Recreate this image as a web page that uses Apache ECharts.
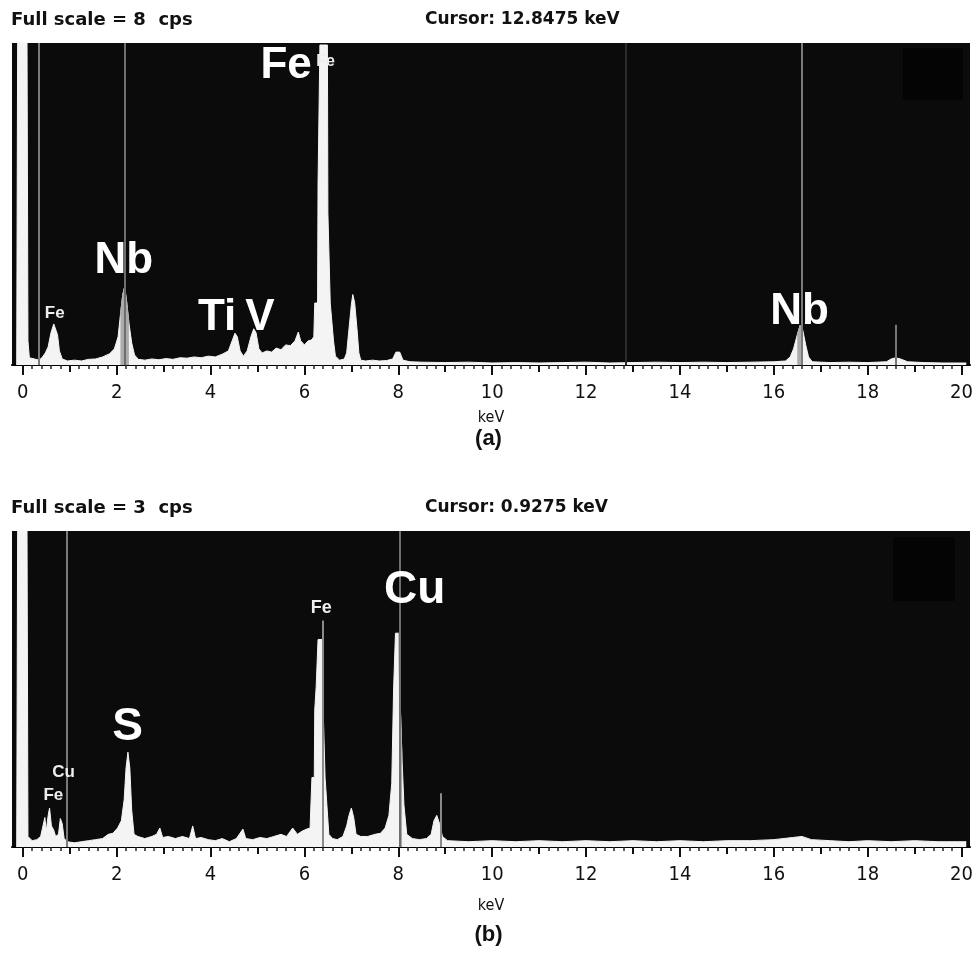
<!DOCTYPE html>
<html>
<head>
<meta charset="utf-8">
<style>
  html, body { margin: 0; padding: 0; background: #fff; }
  #chart { width: 977px; height: 961px; }
</style>
<script src="https://cdn.jsdelivr.net/npm/echarts@6/dist/echarts.min.js"></script>
</head>
<body>
<div id="chart"></div>
<script>
// tick labels (keV)
const tickLabels = [0, 2, 4, 6, 8, 10, 12, 14, 16, 18, 20]
const midTicks = [1, 3, 5, 7, 9, 11, 13, 15, 17, 19]
const minorTicks = []
for (let i = 0; i <= 100; i++) {
  if (i % 5 !== 0) minorTicks.push(Math.round(i * 2) / 10)
}

// panel (a): [keV, cps], full scale 8 cps
const spectrumA = [
  [-0.13, 0], [-0.11, 8], [0.09, 8], [0.11, 0.6], [0.14, 0.18], [0.25, 0.15], [0.35, 0.12],
  [0.42, 0.2], [0.48, 0.3], [0.54, 0.45], [0.6, 0.8], [0.66, 1.02], [0.7, 1.05], [0.74, 0.75],
  [0.78, 0.35], [0.84, 0.15], [0.95, 0.1], [1.1, 0.12], [1.25, 0.1], [1.4, 0.14], [1.55, 0.15],
  [1.7, 0.2], [1.85, 0.28], [1.95, 0.4], [2.03, 0.7], [2.08, 1.25], [2.13, 1.75], [2.17, 1.94],
  [2.21, 1.6], [2.26, 1.05], [2.32, 0.55], [2.38, 0.25], [2.46, 0.14], [2.6, 0.12], [2.75, 0.15],
  [2.9, 0.13], [3.05, 0.16], [3.2, 0.14], [3.35, 0.18], [3.5, 0.17], [3.65, 0.2], [3.8, 0.18],
  [3.95, 0.22], [4.1, 0.2], [4.25, 0.27], [4.38, 0.35], [4.46, 0.6], [4.52, 0.79], [4.57, 0.7],
  [4.63, 0.35], [4.7, 0.22], [4.78, 0.35], [4.86, 0.7], [4.92, 0.9], [4.97, 0.8], [5.03, 0.4],
  [5.1, 0.3], [5.2, 0.35], [5.3, 0.32], [5.4, 0.42], [5.5, 0.38], [5.6, 0.5], [5.7, 0.48],
  [5.8, 0.6], [5.87, 0.82], [5.92, 0.6], [6.0, 0.5], [6.08, 0.6], [6.15, 0.62], [6.2, 0.7],
  [6.22, 1.54], [6.28, 1.54], [6.29, 4.5], [6.32, 4.5], [6.33, 7.95], [6.49, 7.95], [6.5, 3.78],
  [6.54, 3.78], [6.55, 1.54], [6.58, 1.54], [6.62, 0.6], [6.66, 0.22], [6.75, 0.12], [6.85, 0.15],
  [6.9, 0.3], [6.95, 0.9], [7.0, 1.5], [7.03, 1.75], [7.07, 1.55], [7.12, 0.9], [7.16, 0.3],
  [7.2, 0.12], [7.3, 0.1], [7.45, 0.12], [7.6, 0.1], [7.75, 0.11], [7.88, 0.15], [7.95, 0.32],
  [8.03, 0.32], [8.1, 0.12], [8.25, 0.08], [8.5, 0.07], [9.0, 0.06], [9.5, 0.07], [10.0, 0.05],
  [10.5, 0.06], [11.0, 0.05], [11.5, 0.06], [12.0, 0.07], [12.5, 0.05], [13.0, 0.06], [13.5, 0.07],
  [14.0, 0.06], [14.5, 0.07], [15.0, 0.06], [15.5, 0.07], [16.0, 0.08], [16.25, 0.1], [16.35, 0.2],
  [16.42, 0.4], [16.5, 0.75], [16.56, 0.98], [16.62, 0.85], [16.68, 0.5], [16.74, 0.2], [16.82, 0.08],
  [17.2, 0.06], [17.6, 0.07], [18.0, 0.06], [18.4, 0.08], [18.5, 0.15], [18.6, 0.18], [18.7, 0.15],
  [18.85, 0.08], [19.2, 0.06], [19.6, 0.05], [20.1, 0.05]
]
const roiA = [[2.08, 2.26], [16.48, 16.66]]
// [keV, from cps, to cps]
const markersA = [[0.33, 0, 8], [2.17, 0, 8], [12.8475, 0, 8], [16.6, 0, 8], [18.6, 0, 1.0]]
const markerColorsA = ['#7a7a7a', '#6e6e6e', '#2c2c2c', '#7a7a7a', '#777777']
// [text, keV, cps]
const labelsA = [
  ['Fe', 5.61, 7.43], ['Fe', 6.45, 7.55], ['Nb', 2.15, 2.58], ['Ti', 4.14, 1.17],
  ['V', 5.05, 1.17], ['Fe', 0.68, 1.29], ['Nb', 16.55, 1.32]
]
const labelSizesA = [44, 16, 44, 44, 44, 17, 44]

// panel (b): [keV, cps], full scale 3 cps
const spectrumB = [
  [-0.13, 0], [-0.11, 3], [0.09, 3], [0.11, 0.1], [0.2, 0.06], [0.3, 0.07], [0.38, 0.1],
  [0.43, 0.2], [0.47, 0.28], [0.5, 0.15], [0.54, 0.3], [0.57, 0.37], [0.61, 0.2], [0.66, 0.16],
  [0.7, 0.1], [0.76, 0.12], [0.8, 0.27], [0.84, 0.22], [0.88, 0.08], [0.95, 0.05], [1.1, 0.04],
  [1.25, 0.05], [1.4, 0.06], [1.55, 0.07], [1.7, 0.08], [1.82, 0.12], [1.92, 0.13], [2.02, 0.18],
  [2.1, 0.25], [2.16, 0.45], [2.2, 0.75], [2.24, 0.9], [2.28, 0.75], [2.32, 0.35], [2.37, 0.12],
  [2.45, 0.1], [2.6, 0.08], [2.75, 0.1], [2.85, 0.12], [2.92, 0.18], [2.98, 0.09], [3.1, 0.1],
  [3.25, 0.08], [3.4, 0.1], [3.55, 0.08], [3.62, 0.2], [3.68, 0.08], [3.8, 0.09], [3.95, 0.07],
  [4.1, 0.06], [4.25, 0.08], [4.4, 0.05], [4.55, 0.08], [4.69, 0.17], [4.75, 0.08], [4.9, 0.07],
  [5.05, 0.09], [5.2, 0.08], [5.35, 0.1], [5.5, 0.12], [5.62, 0.1], [5.75, 0.18], [5.85, 0.12],
  [5.95, 0.15], [6.05, 0.17], [6.12, 0.18], [6.16, 0.66], [6.21, 0.66], [6.22, 1.3], [6.24, 1.3],
  [6.25, 1.52], [6.28, 1.52], [6.29, 1.97], [6.39, 1.97], [6.4, 1.3], [6.43, 1.3], [6.44, 0.66],
  [6.48, 0.66], [6.52, 0.12], [6.6, 0.08], [6.7, 0.07], [6.82, 0.1], [6.9, 0.2], [6.95, 0.3],
  [7.0, 0.37], [7.05, 0.28], [7.1, 0.12], [7.2, 0.1], [7.35, 0.1], [7.5, 0.12], [7.62, 0.13],
  [7.72, 0.18], [7.8, 0.3], [7.86, 0.6], [7.9, 1.5], [7.93, 1.5], [7.94, 2.03], [8.01, 2.03],
  [8.02, 1.65], [8.06, 1.65], [8.08, 0.83], [8.12, 0.4], [8.18, 0.12], [8.3, 0.08], [8.45, 0.07],
  [8.6, 0.08], [8.7, 0.12], [8.76, 0.25], [8.82, 0.3], [8.88, 0.22], [8.94, 0.1], [9.05, 0.06],
  [9.5, 0.05], [10.0, 0.06], [10.5, 0.05], [11.0, 0.06], [11.5, 0.05], [12.0, 0.06], [12.5, 0.05],
  [13.0, 0.06], [13.5, 0.05], [14.0, 0.06], [14.5, 0.05], [15.0, 0.06], [15.5, 0.06], [16.0, 0.07],
  [16.4, 0.09], [16.6, 0.1], [16.8, 0.07], [17.2, 0.06], [17.6, 0.05], [18.0, 0.06], [18.5, 0.05],
  [19.0, 0.06], [19.5, 0.05], [20.1, 0.05]
]
const roiB = [[7.97, 8.1]]
const markersB = [[0.9275, 0, 3], [6.4, 0, 2.15], [8.04, 0, 3], [8.9, 0, 0.51]]
const markerColorsB = ['#7a7a7a', '#8a8a8a', '#6e6e6e', '#8a8a8a']
const labelsB = [
  ['Cu', 8.35, 2.44], ['Fe', 6.36, 2.27], ['S', 2.23, 1.14], ['Cu', 0.87, 0.71], ['Fe', 0.65, 0.49]
]
const labelSizesB = [46, 18, 46, 17, 17]

const NARROW = "'Liberation Sans Narrow', 'DejaVu Sans Condensed', sans-serif"
const HEAD = "'DejaVu Sans', sans-serif"
const BOLD = "'Liberation Sans', Arial, sans-serif"

const chart = echarts.init(document.getElementById('chart'))

function xAxes(gridIndex, nameGap) {
  const base = { gridIndex, type: 'value', min: -0.23, max: 20.18, position: 'bottom', splitLine: { show: false } }
  return [
    {
      ...base,
      name: 'keV', nameLocation: 'middle', nameGap,
      nameTextStyle: { fontFamily: NARROW, fontSize: 16, color: '#111' },
      axisLine: { show: true, onZero: false, lineStyle: { color: '#000', width: 2 } },
      axisTick: { show: true, customValues: tickLabels, length: 10, lineStyle: { color: '#111', width: 2 } },
      axisLabel: { show: true, customValues: tickLabels, margin: 18, fontFamily: NARROW, fontSize: 20, color: '#111' },
    },
    {
      ...base,
      axisLine: { show: false },
      axisTick: { show: true, customValues: midTicks, length: 7, lineStyle: { color: '#111', width: 2 } },
      axisLabel: { show: false },
    },
    {
      ...base,
      axisLine: { show: false },
      axisTick: { show: true, customValues: minorTicks, length: 4, lineStyle: { color: '#222', width: 1.5 } },
      axisLabel: { show: false },
    },
  ]
}

function panelSeries(idx, spectrum, roi, markers, markerColors, labels, labelSizes) {
  const axis = { xAxisIndex: idx * 3, yAxisIndex: idx }
  const out = [
    {
      ...axis, type: 'line', data: spectrum, symbol: 'none', z: 3,
      lineStyle: { color: '#f4f4f4', width: 1 },
      areaStyle: { color: '#f4f4f4', opacity: 1 },
      markLine: {
        silent: true, symbol: ['none', 'none'], label: { show: false },
        data: markers.map(([x, y0, y1], i) => [
          { coord: [x, y0], lineStyle: { color: markerColors[i], width: 2, type: 'solid' } },
          { coord: [x, y1] },
        ]),
      },
    },
  ]
  roi.forEach(([a, b]) => {
    out.push({
      ...axis, type: 'line', symbol: 'none', z: 4,
      data: spectrum.filter(p => p[0] >= a && p[0] <= b),
      lineStyle: { color: '#ababab', width: 1 },
      areaStyle: { color: '#ababab', opacity: 1 },
    })
  })
  out.push({
    ...axis, type: 'scatter', z: 6, symbolSize: 1,
    itemStyle: { color: 'rgba(0,0,0,0)', opacity: 1 },
    data: labels.map(([t, x, y], i) => ({
      value: [x, y],
      label: {
        show: true, position: 'inside', formatter: t, opacity: 1,
        fontFamily: BOLD, fontWeight: 'bold', fontSize: labelSizes[i],
        color: labelSizes[i] < 20 ? '#eeeeee' : '#ffffff',
        textBorderWidth: 0,
      },
    })),
  })
  return out
}

const headStyle = { fontFamily: HEAD, fontWeight: 'bold', fontSize: 18, color: '#111' }
const curStyle = { fontFamily: HEAD, fontWeight: 'bold', fontSize: 17, color: '#111' }
const capStyle = { fontFamily: BOLD, fontWeight: 'bold', fontSize: 22, color: '#111' }

chart.setOption({
  animation: false,
  backgroundColor: '#fff',
  title: [
    { text: 'Full scale = 8  cps', left: 11, top: 11, padding: 0, textStyle: headStyle },
    { text: 'Cursor: 12.8475 keV', left: 425, top: 11, padding: 0, textStyle: curStyle },
    { text: '(a)', left: 'center', top: 428, padding: 0, textStyle: capStyle },
    { text: 'Full scale = 3  cps', left: 11, top: 499, padding: 0, textStyle: headStyle },
    { text: 'Cursor: 0.9275 keV', left: 425, top: 499, padding: 0, textStyle: curStyle },
    { text: '(b)', left: 'center', top: 924, padding: 0, textStyle: capStyle },
  ],
  grid: [
    { left: 12, right: 7, top: 43, height: 322, show: true, backgroundColor: '#0b0b0b', borderWidth: 0 },
    { left: 12, right: 7, top: 531, height: 316, show: true, backgroundColor: '#0b0b0b', borderWidth: 0 },
  ],
  graphic: [
    { type: 'rect', z: 1, shape: { x: 903, y: 48, width: 60, height: 52 }, style: { fill: '#040404' } },
    { type: 'rect', z: 1, shape: { x: 893, y: 537, width: 62, height: 64 }, style: { fill: '#040404' } },
  ],
  xAxis: [...xAxes(0, 45), ...xAxes(1, 51)],
  yAxis: [
    { gridIndex: 0, type: 'value', min: 0, max: 8, show: false },
    { gridIndex: 1, type: 'value', min: 0, max: 3, show: false },
  ],
  series: [
    ...panelSeries(0, spectrumA, roiA, markersA, markerColorsA, labelsA, labelSizesA),
    ...panelSeries(1, spectrumB, roiB, markersB, markerColorsB, labelsB, labelSizesB),
  ],
})

window.addEventListener('resize', () => chart.resize())
</script>
</body>
</html>
